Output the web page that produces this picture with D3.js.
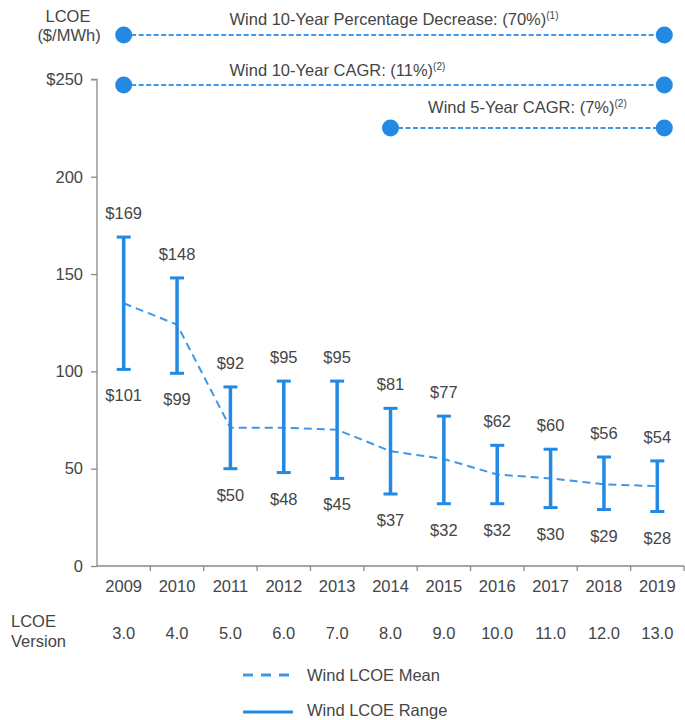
<!DOCTYPE html>
<html>
<head>
<meta charset="utf-8">
<script src="https://cdn.jsdelivr.net/npm/d3@7"></script>
<style>
  html, body { margin: 0; padding: 0; background: #fff; }
  svg { display: block; font-family: "Liberation Sans", Arial, sans-serif; }
</style>
</head>
<body>
<svg id="chart" width="685" height="720"></svg>
<script>
// Wind LCOE by Lazard LCOE version
const years = ["2009", "2010", "2011", "2012", "2013", "2014", "2015", "2016", "2017", "2018", "2019"];
const versions = ["3.0", "4.0", "5.0", "6.0", "7.0", "8.0", "9.0", "10.0", "11.0", "12.0", "13.0"];
const rangeHigh = [169, 148, 92, 95, 95, 81, 77, 62, 60, 56, 54];
const rangeLow = [101, 99, 50, 48, 45, 37, 32, 32, 30, 29, 28];
const meanLCOE = [135, 124, 71, 71, 70, 59, 55, 47, 45, 42, 41];
const yTicks = [0, 50, 100, 150, 200, 250];
const annoText = ["Wind 10-Year Percentage Decrease: (70%)", "Wind 10-Year CAGR: (11%)", "Wind 5-Year CAGR: (7%)"];
const annoNote = ["(1)", "(2)", "(2)"];
const annoStart = ["2009", "2009", "2014"];
const legendLabels = ["Wind LCOE Mean", "Wind LCOE Range"];

const BLUE = "#2389e2";
const LIGHT_BLUE = "#3f97e8";
const TEXT = "#454545";
const AXIS = "#8a8a8a";
const FS = 16.5;

const svg = d3.select("#chart");

const x = d3.scaleBand().domain(years).range([97, 684]).padding(0);
const y = d3.scaleLinear().domain([0, 250]).range([566, 79.4]);
const cx = d => x(d) + x.bandwidth() / 2;

// y axis
const yAxis = svg.append("g")
  .attr("transform", "translate(97,0)")
  .call(d3.axisLeft(y).tickValues(yTicks).tickSize(6).tickPadding(8)
    .tickFormat(d => d === 250 ? "$" + d : d));
yAxis.select(".domain").attr("stroke", AXIS).attr("stroke-width", 1.3).attr("d", `M-6,${y(250)}H0V${y(0)}`);
yAxis.selectAll(".tick line").attr("stroke", AXIS).attr("stroke-width", 1.3);
yAxis.selectAll(".tick text").attr("fill", TEXT).attr("font-size", FS).attr("font-family", "Liberation Sans, Arial, sans-serif");

// x axis with ticks on category boundaries
const xAxisG = svg.append("g").attr("transform", `translate(0,${y(0)})`);
xAxisG.append("line").attr("x1", 97).attr("x2", 684).attr("stroke", AXIS).attr("stroke-width", 1.3);
xAxisG.selectAll("line.bound").data(years).join("line")
  .attr("class", "bound")
  .attr("x1", d => x(d) + x.bandwidth()).attr("x2", d => x(d) + x.bandwidth())
  .attr("y1", 0).attr("y2", 5).attr("stroke", AXIS).attr("stroke-width", 1.3);
xAxisG.selectAll("text.year").data(years).join("text")
  .attr("class", "year")
  .attr("x", d => cx(d)).attr("y", 26)
  .attr("text-anchor", "middle").attr("fill", TEXT).attr("font-size", FS).text(d => d);

// LCOE version row
svg.selectAll("text.version").data(versions).join("text")
  .attr("class", "version")
  .attr("x", (d, i) => cx(years[i])).attr("y", 639)
  .attr("text-anchor", "middle").attr("fill", TEXT).attr("font-size", FS).text(d => d);
svg.append("text").attr("x", 11).attr("y", 627).attr("fill", TEXT).attr("font-size", FS).text("LCOE");
svg.append("text").attr("x", 11).attr("y", 647).attr("fill", TEXT).attr("font-size", FS).text("Version");

// y axis title
svg.append("text").attr("x", 68).attr("y", 22).attr("text-anchor", "middle").attr("fill", TEXT).attr("font-size", FS).text("LCOE");
svg.append("text").attr("x", 69).attr("y", 41).attr("text-anchor", "middle").attr("fill", TEXT).attr("font-size", FS).text("($/MWh)");

// mean line
svg.append("path")
  .datum(meanLCOE)
  .attr("fill", "none").attr("stroke", LIGHT_BLUE).attr("stroke-width", 2)
  .attr("stroke-dasharray", "8,5")
  .attr("d", d3.line().x((d, i) => cx(years[i])).y(d => y(d)));

// range bars
const capW = 7;
const bars = svg.append("g").selectAll("g").data(years).join("g");
bars.append("line")
  .attr("x1", d => cx(d)).attr("x2", d => cx(d))
  .attr("y1", (d, i) => y(rangeHigh[i])).attr("y2", (d, i) => y(rangeLow[i]))
  .attr("stroke", BLUE).attr("stroke-width", 3.5);
bars.append("line")
  .attr("x1", d => cx(d) - capW).attr("x2", d => cx(d) + capW)
  .attr("y1", (d, i) => y(rangeHigh[i])).attr("y2", (d, i) => y(rangeHigh[i]))
  .attr("stroke", BLUE).attr("stroke-width", 3);
bars.append("line")
  .attr("x1", d => cx(d) - capW).attr("x2", d => cx(d) + capW)
  .attr("y1", (d, i) => y(rangeLow[i])).attr("y2", (d, i) => y(rangeLow[i]))
  .attr("stroke", BLUE).attr("stroke-width", 3);
bars.append("text")
  .attr("x", d => cx(d)).attr("y", (d, i) => y(rangeHigh[i]) - 18)
  .attr("text-anchor", "middle").attr("fill", TEXT).attr("font-size", FS)
  .text((d, i) => "$" + rangeHigh[i]);
bars.append("text")
  .attr("x", d => cx(d)).attr("y", (d, i) => y(rangeLow[i]) + 32)
  .attr("text-anchor", "middle").attr("fill", TEXT).attr("font-size", FS)
  .text((d, i) => "$" + rangeLow[i]);

// trend annotations above the plot
const annoY = [35, 85, 128];
const annoTextY = [25, 76, 113];
const rightEnd = cx(years[years.length - 1]) + 7;
let firstStart = null;
annoText.forEach((t, i) => {
  const x0 = cx(annoStart[i]);
  svg.append("line").attr("x1", x0).attr("x2", rightEnd)
    .attr("y1", annoY[i]).attr("y2", annoY[i])
    .attr("stroke", LIGHT_BLUE).attr("stroke-width", 2).attr("stroke-dasharray", "5,2.5");
  [x0, rightEnd].forEach(px => svg.append("circle").attr("cx", px).attr("cy", annoY[i]).attr("r", 8.5).attr("fill", BLUE));
  const txt = svg.append("text").attr("y", annoTextY[i]).attr("fill", TEXT).attr("font-size", FS);
  txt.append("tspan").text(t);
  txt.append("tspan").attr("font-size", 10).attr("dy", -6).text(annoNote[i]);
  const w = txt.node().getComputedTextLength();
  let left;
  if (i === 1 && firstStart !== null) left = firstStart;
  else left = (x0 + rightEnd) / 2 - w / 2;
  if (i === 0) firstStart = left;
  txt.attr("x", left);
});

// legend
const leg = svg.append("g");
leg.append("line").attr("x1", 243).attr("x2", 293).attr("y1", 675).attr("y2", 675)
  .attr("stroke", LIGHT_BLUE).attr("stroke-width", 3).attr("stroke-dasharray", "10,8");
leg.append("text").attr("x", 307).attr("y", 681).attr("fill", TEXT).attr("font-size", FS).text(legendLabels[0]);
leg.append("line").attr("x1", 243).attr("x2", 293).attr("y1", 712).attr("y2", 712)
  .attr("stroke", BLUE).attr("stroke-width", 3);
leg.append("text").attr("x", 307).attr("y", 716).attr("fill", TEXT).attr("font-size", FS).text(legendLabels[1]);
</script>
</body>
</html>
